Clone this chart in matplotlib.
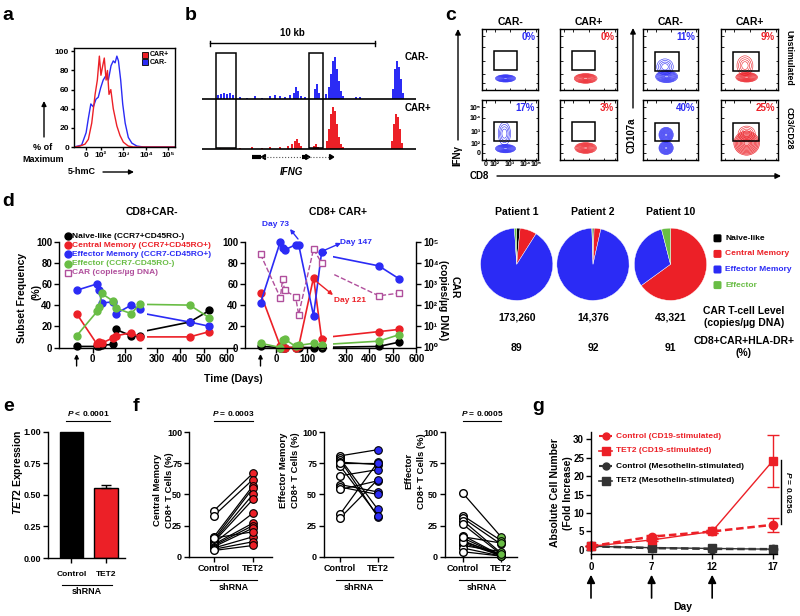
import matplotlib
matplotlib.use('Agg')
import matplotlib.pyplot as plt
from matplotlib.patches import Rectangle, Ellipse, FancyBboxPatch, Polygon
from matplotlib.ticker import NullLocator

plt.rcParams['font.family'] = ['Liberation Sans', 'DejaVu Sans']
plt.rcParams['font.weight'] = 'bold'
plt.rcParams['axes.labelweight'] = 'bold'
plt.rcParams['mathtext.fontset'] = 'custom'
plt.rcParams['mathtext.it'] = 'Liberation Sans:italic:bold'
plt.rcParams['mathtext.rm'] = 'Liberation Sans:bold'
plt.rcParams['mathtext.bf'] = 'Liberation Sans:bold'
plt.rcParams['axes.linewidth'] = 1.0
plt.rcParams['xtick.major.width'] = 1.0
plt.rcParams['ytick.major.width'] = 1.0

RED = '#ec2027'
BLUE = '#2b2bf5'
GREEN = '#69bd45'
PURPLE = '#b04f9c'
GREY = '#333333'

# ---------------- data ----------------
# panel a (x in decades of 5-hmC signal)
hist_red_x = [0.84, 1.07, 1.29, 1.44, 1.59, 1.74, 1.84, 1.93, 2.00, 2.08, 2.15, 2.23, 2.29, 2.36, 2.44,
              2.55, 2.71, 2.85, 3.00, 3.22, 3.45, 5.30]
hist_red_y = [0, 1, 3, 8, 25, 55, 70, 95, 75, 85, 93, 70, 80, 55, 60, 40, 22, 12, 5, 1, 0, 0]
hist_blue_x = [0.80, 1.14, 1.34, 1.44, 1.55, 1.66, 1.78, 1.88, 1.99, 2.10, 2.23, 2.33, 2.45, 2.55, 2.63,
               2.71, 2.78, 2.88, 2.97, 3.08, 3.22, 3.38, 3.60, 3.90, 5.30]
hist_blue_y = [0, 2, 15, 30, 45, 42, 50, 52, 62, 70, 75, 70, 85, 90, 88, 95, 90, 70, 45, 25, 10, 4, 1, 0, 0]
a_tick_pos = [1.35, 2, 3, 4, 5]
a_tick_lab = ['0', '10²', '10³', '10⁴', '10⁵']

# panel b (position in kb, signal height)
blue_pos = [0.97, 1.15, 1.33, 1.52, 1.70, 1.88, 2.30, 2.73, 3.21, 3.64, 4.12, 4.42, 4.73, 5.03, 5.33, 5.58,
            5.70, 5.82, 6.00, 6.24, 6.85, 6.97, 7.09, 7.52, 7.70, 7.82, 7.94, 8.06, 8.18, 8.30, 8.42, 8.55,
            9.33, 9.58, 11.58, 11.70, 11.82, 11.94, 12.06, 12.18]
blue_h = [4, 5, 6, 5, 6, 4, 2, 1, 3, 1, 3, 4, 3, 2, 4, 6, 12, 8, 3, 2, 10, 15, 6, 5, 12, 25, 38, 42, 30, 18,
          8, 3, 2, 2, 10, 30, 38, 32, 20, 6]
red_pos = [1.09, 2.30, 3.03, 3.64, 4.12, 4.73, 5.21, 5.45, 5.64, 5.76, 5.88, 6.00, 6.79, 6.91, 7.03, 7.58,
           7.70, 7.82, 7.94, 8.06, 8.18, 8.30, 8.42, 8.55, 11.52, 11.64, 11.76, 11.88, 12.00, 12.12]
red_h = [1, 1, 2, 1, 2, 2, 3, 5, 8, 10, 6, 3, 3, 5, 2, 8, 20, 35, 42, 38, 25, 12, 5, 2, 8, 25, 35, 32, 20, 6]

# panel c
c_titles = ['CAR-', 'CAR+', 'CAR-', 'CAR+']
c_rows = ['Unstimulated', 'CD3/CD28']
c_pct = [['0%', '0%', '11%', '9%'], ['17%', '3%', '40%', '25%']]

# panel d
days = [-50, 14, 21, 28, 63, 73, 121, 147, 440, 525]
neg_naive = [1, 1, 1, 2, 3, 17, 11, 11, 24, 35]
neg_cm = [32, 3, 5, 4, 9, 11, 14, 10, 10, 15]
neg_em = [54, 60, 54, 42, 43, 32, 40, 36, 24, 20]
neg_eff = [11, 34, 38, 51, 44, 37, 32, 41, 40, 28]
pos_naive = [1, 0, 0, 0, 0, 0, 0, 0, 1, 5]
pos_cm = [51, 1, 0, 0, 0, 1, 66, 8, 15, 17]
pos_em = [42, 100, 94, 92, 97, 97, 30, 90, 77, 65]
pos_eff = [4, 0, 7, 8, 1, 2, 4, 2, 6, 12]
pos_car = [25000, 220, 1700, 490, 250, 36, 44000, 9600, 275, 365]

pie_patients = ['Patient 1', 'Patient 2', 'Patient 10']
pie_naive = [1.5, 0.5, 0]
pie_cm = [7.5, 3, 65]
pie_em = [90, 96, 31]
pie_eff = [1, 0.5, 4]
car_level = ['173,260', '14,376', '43,321']
hla_dr = ['89', '92', '91']

# panel e
e_groups = ['Control', 'TET2']
tet2_expr = [1.0, 0.555]
tet2_err = [0.0, 0.02]

# panel f
f_groups = ['Control', 'TET2']
cm_ctrl = [37, 33, 16, 14, 13, 12, 11, 10, 9, 8, 7, 6, 5, 15]
cm_tet2 = [67, 62, 57, 55, 50, 46, 35, 27, 25, 23, 16, 12, 9, 20]
em_ctrl = [81, 79, 78, 76, 73, 65, 58, 56, 54, 34, 31, 75]
em_tet2 = [86, 38, 32, 74, 33, 70, 52, 50, 61, 76, 62, 75]
ef_ctrl = [51, 33, 31, 29, 26, 17, 15, 13, 11, 9, 7, 4, 12, 16]
ef_tet2 = [16, 13, 10, 3, 2, 1, 1, 0.5, 1, 4, 0.5, 0.5, 2, 11]

# panel g
g_days = ['0', '7', '12', '17']
ctrl_cd19 = [1, 3.6, 5.0, 6.8]
ctrl_cd19_err = [0, 0.4, 0.3, 1.9]
tet2_cd19 = [1, 2.7, 5.0, 24.1]
tet2_cd19_err = [0, 0.3, 0.3, 7.1]
ctrl_meso = [1, 0.5, 0.3, 0.2]
tet2_meso = [1, 0.6, 0.4, 0.2]

# ---------------- figure ----------------
W, H = 800, 616
fig = plt.figure(figsize=(8, 6.16), dpi=100)


def pax(x0, y0, x1, y1, **kw):
    return fig.add_axes([x0 / W, 1 - y1 / H, (x1 - x0) / W, (y1 - y0) / H], **kw)


ov = fig.add_axes([0, 0, 1, 1], zorder=20)
ov.set_xlim(0, W)
ov.set_ylim(H, 0)
ov.axis('off')


def T(x, y, s, size=7, ha='center', va='center', color='black', **kw):
    ov.text(x, y, s, fontsize=size, ha=ha, va=va, color=color, **kw)


def arrow(x0, y0, x1, y1, color='black', lw=1.0, ms=7):
    ov.annotate('', xy=(x1, y1), xytext=(x0, y0),
                arrowprops=dict(arrowstyle='-|>', color=color, lw=lw, mutation_scale=ms,
                                shrinkA=0, shrinkB=0))


def prism(ax, size=6.5):
    ax.spines['top'].set_visible(False)
    ax.spines['right'].set_visible(False)
    ax.tick_params(direction='out', length=3.5, labelsize=size, pad=1.5)


# panel letters
for lab, x, y in [('a', 2, 20), ('b', 185, 20), ('c', 445, 20), ('d', 2, 206),
                  ('e', 3, 411), ('f', 133, 411), ('g', 532, 411)]:
    T(x, y, lab, size=14, ha='left', va='baseline')

# ---------------- panel a ----------------
axa = pax(74, 48, 175, 147)
axa.plot(hist_blue_x, hist_blue_y, color=BLUE, lw=1)
axa.plot(hist_red_x, hist_red_y, color=RED, lw=1)
axa.set_xlim(0.8, 5.3)
axa.set_ylim(0, 103.5)
axa.set_yticks([0, 20, 40, 60, 80, 100])
axa.set_xticks(a_tick_pos)
axa.set_xticklabels(a_tick_lab)
axa.tick_params(labelsize=6, length=2, pad=1.5)
ov.add_patch(Rectangle((142, 51.5), 6, 6, facecolor=RED, edgecolor='black', lw=0.6))
ov.add_patch(Rectangle((142, 59), 6, 6, facecolor=BLUE, edgecolor='black', lw=0.6))
T(149.5, 54.5, 'CAR+', size=5, ha='left')
T(149.5, 62, 'CAR-', size=5, ha='left')
arrow(44, 137, 44, 101, lw=1, ms=7)
T(43, 148, '% of', size=6.5)
T(43, 160, 'Maximum', size=6.5)
T(68, 172, '5-hmC', size=6.5, ha='left')
arrow(103, 172, 134, 172, lw=1, ms=7)

# ---------------- panel b ----------------
axb = pax(202, 40, 416, 180)
axb.set_xlim(0, 13)
axb.set_ylim(0, 140)
axb.axis('off')
axb.bar(blue_pos, blue_h, width=0.13, bottom=81, color=BLUE, lw=0)
axb.bar(red_pos, red_h, width=0.13, bottom=31, color=RED, lw=0)
axb.plot([0, 13], [81, 81], color='black', lw=1.2)
axb.plot([0, 13], [31, 31], color='black', lw=1.2)
for bx0, bx1 in [(0.85, 2.06), (6.48, 7.33)]:
    axb.add_patch(Rectangle((bx0, 32), bx1 - bx0, 95, fill=False, ec='black', lw=1.1))
axb.plot([0.48, 10.48], [137, 137], color='black', lw=1)
axb.plot([0.48, 0.48], [134.5, 139.5], color='black', lw=1)
axb.plot([10.48, 10.48], [134.5, 139.5], color='black', lw=1)
axb.text(5.48, 142, '10 kb', fontsize=7, ha='center', va='bottom')
axb.plot([3.03, 3.6], [23, 23], color='black', lw=3, solid_capstyle='butt')
axb.plot([3.6, 6.1], [23, 23], color='#555555', lw=0.8, ls=':')
axb.plot([6.1, 6.25], [23, 23], color='black', lw=3, solid_capstyle='butt')
axb.plot([6.35, 7.8], [23, 23], color='#555555', lw=0.8, ls=':')
axb.add_patch(Polygon([[3.6, 23], [3.85, 25.5], [3.85, 20.5]], color='black'))
axb.add_patch(Polygon([[6.55, 23], [6.3, 25.5], [6.3, 20.5]], color='black'))
axb.add_patch(Polygon([[8.0, 23], [7.75, 25.5], [7.75, 20.5]], color='black'))
axb.text(5.45, 8, 'IFNG', fontsize=7, style='italic', ha='center', va='center')
T(405, 57, 'CAR-', size=7, ha='left')
T(405, 108, 'CAR+', size=7, ha='left')

# ---------------- panel c ----------------
box_x = [(482, 538), (560, 617), (643, 698), (721, 778)]
box_y = [(29, 90), (100, 160)]
# (cx, cy, w, h, dense) in box fractions
c_blobs = [
    [[(0.42, 0.19, 0.36, 0.12, 1)], [(0.45, 0.19, 0.40, 0.16, 1)],
     [(0.43, 0.22, 0.40, 0.20, 1), (0.40, 0.38, 0.30, 0.26, 0)],
     [(0.45, 0.21, 0.38, 0.16, 1), (0.42, 0.40, 0.28, 0.32, 0)]],
    [[(0.42, 0.19, 0.36, 0.14, 1), (0.40, 0.44, 0.22, 0.38, 0)], [(0.45, 0.20, 0.38, 0.18, 1)],
     [(0.42, 0.20, 0.26, 0.22, 1), (0.42, 0.42, 0.26, 0.25, 1)],
     [(0.45, 0.28, 0.45, 0.40, 1), (0.45, 0.44, 0.30, 0.25, 0)]],
]
c_gates = [(0.21, 0.32, 0.62, 0.64), (0.21, 0.32, 0.62, 0.64), (0.21, 0.31, 0.66, 0.62), (0.21, 0.31, 0.66, 0.62)]
for r in range(2):
    for c in range(4):
        x0, x1 = box_x[c]
        y0, y1 = box_y[r]
        ax = pax(x0, y0, x1, y1)
        ax.set_xlim(0, 1)
        ax.set_ylim(0, 1)
        col = BLUE if c % 2 == 0 else RED
        for (cx, cy, w, h, dense) in c_blobs[r][c]:
            if dense:
                ax.add_patch(Ellipse((cx, cy), w, h, fc=col, ec='none', alpha=0.35))
                levels = [1.0, 0.9, 0.8, 0.7, 0.6, 0.5, 0.4, 0.3, 0.2]
            else:
                levels = [1.0, 0.8, 0.6, 0.4]
            for s in levels:
                ax.add_patch(Ellipse((cx, cy), w * s, h * s, fill=False, ec=col, lw=0.4))
        gx0, gy0, gx1, gy1 = c_gates[c]
        ax.add_patch(Rectangle((gx0, gy0), gx1 - gx0, gy1 - gy0, fill=False, ec='black', lw=1.1))
        ax.text(0.95, 0.87, c_pct[r][c], transform=ax.transAxes, color=col, fontsize=7,
                ha='right', va='center')
        ax.set_xticks([0.07, 0.23, 0.5, 0.77, 0.97])
        ax.set_yticks([0.12, 0.27, 0.48, 0.7, 0.88])
        ax.tick_params(direction='in', length=1.8, width=0.6, top=True, right=True, labelsize=5, pad=1)
        if r == 1 and c == 0:
            ax.set_xticklabels(['0', '10²', '10³', '10⁴', '10⁵'])
            ax.set_yticklabels(['0', '10²', '10³', '10⁴', '10⁵'])
        else:
            ax.set_xticklabels([])
            ax.set_yticklabels([])
        if r == 0:
            T((x0 + x1) / 2, 22, c_titles[c], size=7.5)
T(789, 57.5, c_rows[0], size=6.3, rotation=-90)
T(789, 128, c_rows[1], size=6.3, rotation=-90)
arrow(458, 140, 458, 29, lw=1, ms=8)
T(457, 156, 'IFNγ', size=7, rotation=90)
arrow(633, 108, 633, 28, lw=1, ms=8)
T(632, 135, 'CD107a', size=7, rotation=90)
T(479, 176, 'CD8', size=7)
arrow(497, 176, 781, 176, lw=1, ms=8)

# ---------------- panel d: time courses ----------------
Y0, Y100 = 347.5, 241.5
PPU = (Y0 - Y100) / 100.0
YLO, YHI = -5, 103
ybot = Y0 - YLO * PPU
ytop = Y0 - YHI * PPU


def dseg(x0, x1, xlim, bounds, ticks, first):
    ax = pax(x0, ytop, x1, ybot)
    ax.set_xlim(*xlim)
    ax.set_ylim(YLO, YHI)
    ax.patch.set_alpha(0)
    ax.spines['top'].set_visible(False)
    ax.spines['right'].set_visible(False)
    ax.spines['bottom'].set_position(('data', 0))
    ax.spines['bottom'].set_bounds(*bounds)
    ax.set_xticks(ticks)
    ax.tick_params(direction='out', length=3.5, labelsize=7, pad=1.5)
    if first:
        ax.spines['left'].set_bounds(0, 100)
        ax.set_yticks([0, 20, 40, 60, 80, 100])
    else:
        ax.spines['left'].set_visible(False)
        ax.set_yticks([])
    return ax


def draw_series(ax, naive, cm, em, eff):
    for vals, colr in [(naive, 'black'), (cm, RED), (em, BLUE), (eff, GREEN)]:
        ax.plot(days, vals, '-o', color=colr, ms=5, lw=1.2)


lsegs = [dseg(59, 143.8, (-105, 160), (-105, 150), [0, 100], True),
         dseg(147, 235.1, (257, 635), (257, 635), [300, 400, 500, 600], False)]
for ax in lsegs:
    draw_series(ax, neg_naive, neg_cm, neg_em, neg_eff)

rsegs = [dseg(245, 327.2, (-100, 165), (-100, 160), [0, 100], True),
         dseg(333, 416.4, (245, 600), (245, 600), [300, 400, 500, 600], False)]
for i, ax in enumerate(rsegs):
    draw_series(ax, pos_naive, pos_cm, pos_em, pos_eff)
    tw = ax.twinx()
    tw.set_yscale('log')
    tw.set_ylim(10 ** (YLO / 20.0), 10 ** (YHI / 20.0))
    tw.plot(days, pos_car, '--s', color=PURPLE, mfc='white', mec=PURPLE, ms=4.5, mew=1, lw=1)
    for sp in ['top', 'left', 'bottom']:
        tw.spines[sp].set_visible(False)
    tw.yaxis.set_minor_locator(NullLocator())
    if i == 1:
        tw.spines['right'].set_bounds(1, 1e5)
        tw.set_yticks([1, 10, 100, 1e3, 1e4, 1e5])
        tw.set_yticklabels(['10⁰', '10¹', '10²', '10³', '10⁴', '10⁵'])
        tw.tick_params(axis='y', direction='out', length=3.5, labelsize=7, pad=1.5)
    else:
        tw.spines['right'].set_visible(False)
        tw.set_yticks([])

T(152, 212, 'CD8+CAR-', size=7.5)
T(338, 212, 'CD8+ CAR+', size=7.5)
T(22, 298, 'Subset Frequency', size=7.5, rotation=90)
T(37, 292, '(%)', size=7.5, rotation=90)
T(455, 287, 'CAR', size=7.5, rotation=-90)
T(443, 300, '(copies/µg DNA)', size=7.5, rotation=-90)
T(233, 379, 'Time (Days)', size=7.5)
arrow(76.6, 366, 76.6, 354, lw=1, ms=6)
arrow(260.5, 366, 260.5, 354, lw=1, ms=6)

leg_items = [('Naive-like (CCR7+CD45RO-)', 'black', 'o'), ('Central Memory (CCR7+CD45RO+)', RED, 'o'),
             ('Effector Memory (CCR7-CD45RO+)', BLUE, 'o'), ('Effector (CCR7-CD45RO-)', GREEN, 'o'),
             ('CAR (copies/µg DNA)', PURPLE, 's')]
for k, (lab, colr, mk) in enumerate(leg_items):
    yy = 236 + k * 9.2
    if mk == 'o':
        ov.plot([68], [yy], 'o', color=colr, ms=5)
    else:
        ov.plot([68], [yy], 's', mfc='white', mec=colr, ms=4, mew=1)
    T(72.5, yy, lab, size=6, ha='left', color=colr)

T(275, 225, 'Day 73', size=6, color=BLUE)
arrow(298, 239, 290, 229, color=BLUE, lw=1, ms=6)
T(356, 243, 'Day 147', size=6, color=BLUE)
arrow(325, 250, 341, 243, color=BLUE, lw=1, ms=6)
T(350, 301, 'Day 121', size=6, color=RED)
arrow(317, 282, 333, 295, color=RED, lw=1, ms=6)

# ---------------- panel d: pies ----------------
pie_cx = [516.7, 593.0, 670.5]
for i in range(3):
    cx, cy, rr = pie_cx[i], 264.3, 36.5
    axp = pax(cx - rr, cy - rr, cx + rr, cy + rr)
    axp.pie([pie_naive[i], pie_cm[i], pie_em[i], pie_eff[i]], colors=['black', RED, BLUE, GREEN],
            startangle=90, counterclock=False, radius=1,
            wedgeprops=dict(edgecolor='white', linewidth=0.3))
    axp.set_xlim(-1.01, 1.01)
    axp.set_ylim(-1.01, 1.01)
    T(cx, 212, pie_patients[i], size=7.5)
    T(cx, 317, car_level[i], size=7.5)
    T(cx, 348, hla_dr[i], size=7.5)
T(744, 311, 'CAR T-cell Level', size=7.5)
T(744, 323.5, '(copies/µg DNA)', size=7.5)
T(744, 341, 'CD8+CAR+HLA-DR+', size=7.5)
T(744, 353, '(%)', size=7.5)
for k, (lab, colr) in enumerate([('Naive-like', 'black'), ('Central Memory', RED),
                                  ('Effector Memory', BLUE), ('Effector', GREEN)]):
    yy = 238.3 + k * 15.6
    ov.add_patch(FancyBboxPatch((713.5, yy - 4), 8, 8, boxstyle='round,pad=0,rounding_size=1.5',
                                facecolor=colr, edgecolor='none'))
    T(725, yy, lab, size=6, ha='left', color=colr)

# ---------------- panel e ----------------
axe = pax(48, 429.2, 125, 558)
axe.bar([0, 1], tet2_expr, width=0.67, color=['black', RED], edgecolor='black', lw=1)
axe.errorbar([1], [tet2_expr[1]], yerr=[[0], [tet2_err[1]]], color='black', capsize=3.5, lw=1, capthick=1)
axe.set_xlim(-0.68, 1.55)
axe.set_ylim(0, 1.02)
prism(axe)
axe.spines['left'].set_bounds(0, 1)
axe.set_yticks([0, 0.25, 0.5, 0.75, 1.0])
axe.set_yticklabels(['0.00', '0.25', '0.50', '0.75', '1.00'])
axe.set_xticks([0, 1])
axe.set_xticklabels(e_groups, fontsize=6)
axe.tick_params(axis='x', pad=6)
T(18, 472, r'$\it{TET2}$ Expression', size=7.5, rotation=90)
T(88, 413.5, r'$\it{P}$ < 0.0001', size=6)
ov.plot([66, 110], [420.5, 420.5], color='black', lw=0.8)
ov.plot([62, 112], [584.5, 584.5], color='black', lw=0.8)
T(87, 591, 'shRNA', size=6.5)

# ---------------- panel f ----------------


def paired(x0, x1, xlim, ctrl, tet, colr, lab1, lab2, ylab_y, plab):
    ax = pax(x0, 430, x1, 556.7)
    ax.set_xlim(*xlim)
    ax.set_ylim(0, 101.8)
    for cval, tval in zip(ctrl, tet):
        ax.plot([0, 1], [cval, tval], color='black', lw=0.9, zorder=2, clip_on=False)
    ax.plot([0] * len(ctrl), ctrl, 'o', mfc='white', mec='black', ms=5.5, mew=1, clip_on=False, zorder=3)
    ax.plot([1] * len(tet), tet, 'o', mfc=colr, mec='black', ms=5.5, mew=0.8, clip_on=False, zorder=3)
    prism(ax)
    ax.spines['left'].set_bounds(0, 100)
    ax.set_yticks([0, 25, 50, 75, 100])
    ax.set_xticks([0, 1])
    ax.set_xticklabels(f_groups)
    ax.tick_params(axis='x', pad=2)
    px0 = x0 + (0 - xlim[0]) / (xlim[1] - xlim[0]) * (x1 - x0)
    px1 = x0 + (1 - xlim[0]) / (xlim[1] - xlim[0]) * (x1 - x0)
    T(lab1[0], ylab_y, lab1[1], size=6.8, rotation=90)
    T(lab2[0], ylab_y, lab2[1], size=6.8, rotation=90)
    if plab:
        T((px0 + px1) / 2, 414, plab, size=6)
        ov.plot([px0, px1], [420.5, 420.5], color='black', lw=0.8)
    ov.plot([px0 - 4, px1 + 4], [580, 580], color='black', lw=0.8)
    T((px0 + px1) / 2, 588, 'shRNA', size=6.5)


paired(189, 272, (-0.64, 1.49), cm_ctrl, cm_tet2, RED, (157, 'Central Memory'),
       (169, 'CD8+ T Cells (%)'), 490, r'$\it{P}$ = 0.0003')
paired(324, 393, (-0.42, 1.40), em_ctrl, em_tet2, BLUE, (284, 'Effector Memory'),
       (296, 'CD8+ T Cells (%)'), 470, None)
paired(445, 517, (-0.47, 1.42), ef_ctrl, ef_tet2, GREEN, (409, 'Effector'),
       (421, 'CD8+ T Cells (%)'), 471, r'$\it{P}$ = 0.0005')

# ---------------- panel g ----------------
axg = pax(591, 431.7, 777, 554)
gx = [0, 1, 2, 3]
axg.errorbar(gx, ctrl_meso, color=GREY, ls='--', lw=1.8, marker='o', ms=6, dashes=(3, 1.5), clip_on=False)
axg.errorbar(gx, tet2_meso, color=GREY, ls='-', lw=1, marker='s', ms=6, clip_on=False)
axg.errorbar(gx, ctrl_cd19, yerr=ctrl_cd19_err, color=RED, ls='--', lw=1.8, marker='o', ms=6,
             capsize=4, capthick=1, elinewidth=1, dashes=(3, 1.5), clip_on=False)
axg.errorbar(gx, tet2_cd19, yerr=tet2_cd19_err, color=RED, ls='-', lw=1, marker='s', ms=6,
             capsize=4, capthick=1, elinewidth=1, clip_on=False)
axg.set_xlim(0, 3.07)
axg.set_ylim(-1.1, 32)
prism(axg)
axg.set_yticks([0, 5, 10, 15, 20, 25, 30])
axg.set_xticks(gx)
axg.set_xticklabels(g_days)
axg.tick_params(labelsize=7)
axg.tick_params(axis='x', pad=2)
for xx in gx[:3]:
    axg.annotate('', xy=(xx, -0.17), xytext=(xx, -0.36), xycoords=('data', 'axes fraction'),
                 annotation_clip=False,
                 arrowprops=dict(arrowstyle='-|>', color='black', lw=1.2, mutation_scale=12,
                                 shrinkA=0, shrinkB=0))
T(683, 607, 'Day', size=7.5)
T(555, 493, 'Absolute Cell Number', size=7.5, rotation=90)
T(568, 493, '(Fold Increase)', size=7.5, rotation=90)
ov.plot([781, 781], [460, 524], color='black', lw=1)
T(788, 492, r'$\it{P}$ = 0.0256', size=6, rotation=-90)
g_leg = [('Control (CD19-stimulated)', RED, 'o', '--'), ('TET2 (CD19-stimulated)', RED, 's', '-'),
         ('Control (Mesothelin-stimulated)', GREY, 'o', '--'), ('TET2 (Mesothelin-stimulated)', GREY, 's', '-')]
for k, (lab, colr, mk, ls) in enumerate(g_leg):
    yy = 436 + k * 15
    ov.plot([599, 612], [yy, yy], color=colr, ls=ls, lw=1.5 if ls == '--' else 1.2)
    ov.plot([605.5], [yy], mk, color=colr, ms=5 if mk == 'o' else 5.5)
    T(616, yy, lab, size=6, ha='left', color=colr if colr == RED else 'black')

fig.savefig('out.png', dpi=100)
